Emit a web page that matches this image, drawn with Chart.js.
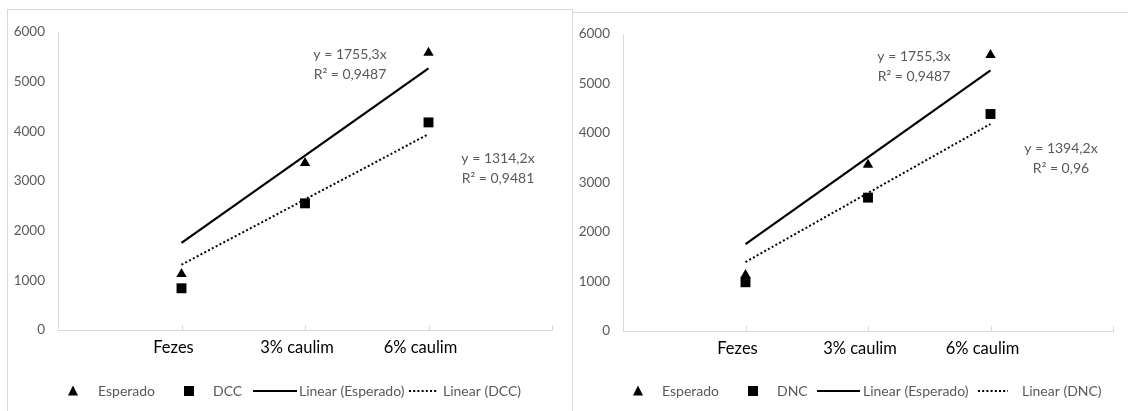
<!DOCTYPE html>
<html>
<head>
<meta charset="utf-8">
<script src="https://cdn.jsdelivr.net/npm/chart.js@4.4.1/dist/chart.umd.min.js"></script>
<style>
  html, body { margin: 0; padding: 0; background: #ffffff; }
  body { width: 1128px; height: 411px; position: relative; overflow: hidden; }
  .box { position: absolute; border: 1px solid #d9d9d9; border-bottom: none; background: #fff; }
  #boxA { left: 7px; top: 9px; width: 564px; height: 410px; }
  #boxB { left: 572px; top: 12px; width: 560px; height: 410px; }
  canvas { position: absolute; left: 0; top: 0; }
</style>
</head>
<body>
<div class="box" id="boxA"><canvas id="chartA" width="564" height="401"></canvas></div>
<div class="box" id="boxB"><canvas id="chartB" width="555" height="398"></canvas></div>
<script>
// Treatments along the horizontal axis and their positions on it
const categories = ['Fezes', '3% caulim', '6% caulim'];
const categoryPositions = [1, 2, 3];
const xTickPositions = [1, 2, 3, 4];

// Vertical axis ticks
const yTicks = [0, 1000, 2000, 3000, 4000, 5000, 6000];

// Measured / expected values
const esperado = [1130, 3360, 5580];
const dcc = [840, 2550, 4180];
const dnc = [985, 2695, 4385];

// Linear trend lines forced through the origin (y = a·x)
const slopeEsperado = 1755.3;
const slopeDCC = 1314.2;
const slopeDNC = 1394.2;
const r2Esperado = 0.9487;
const r2DCC = 0.9481;
const r2DNC = 0.96;
const trendX = [1, 3];
const trendEsperado = [1755.3, 5265.9];
const trendDCC = [1314.2, 3942.6];
const trendDNC = [1394.2, 4182.6];

const FONT = "Lato, 'Liberation Sans', sans-serif";
const GREY_TEXT = '#595959';
const AXIS_GREY = '#d9d9d9';
const TICK_SIZE = 13.5;
const EQ_SIZE = 14;
const LEGEND_SIZE = 14;

const fmt = v => String(v).replace('.', ',');
const pts = (xs, ys) => xs.map((x, i) => ({ x, y: ys[i] }));

function drawTriangle(ctx, x, y, s) {
  ctx.beginPath();
  ctx.moveTo(x, y - s * 0.55);
  ctx.lineTo(x + s / 2, y + s * 0.45);
  ctx.lineTo(x - s / 2, y + s * 0.45);
  ctx.closePath();
  ctx.fill();
}

// Inward tick marks on the category axis, equations and the legend row
const decorPlugin = {
  id: 'decor',
  afterDraw(chart) {
    const o = chart.options.plugins.decor;
    const ctx = chart.ctx;
    const xs = chart.scales.x;
    const ys = chart.scales.y;
    ctx.save();
    // tick marks
    ctx.strokeStyle = AXIS_GREY;
    ctx.lineWidth = 1;
    xTickPositions.forEach(v => {
      const px = Math.round(xs.getPixelForValue(v)) + 0.5;
      ctx.beginPath();
      ctx.moveTo(px, ys.bottom);
      ctx.lineTo(px, ys.bottom - 5);
      ctx.stroke();
    });
    // trend equations
    ctx.fillStyle = GREY_TEXT;
    ctx.font = EQ_SIZE + 'px ' + FONT;
    ctx.textAlign = 'center';
    ctx.textBaseline = 'middle';
    o.equations.forEach(e => {
      ctx.fillText('y = ' + fmt(e.slope) + 'x', e.x, e.y);
      ctx.fillText('R\u00B2 = ' + fmt(e.r2), e.x, e.y + 20);
    });
    // legend
    const ly = o.legendY;
    ctx.font = LEGEND_SIZE + 'px ' + FONT;
    ctx.textAlign = 'left';
    o.legend.forEach(item => {
      ctx.fillStyle = '#000';
      ctx.strokeStyle = '#000';
      if (item.kind === 'triangle') {
        drawTriangle(ctx, item.sx, ly, 10);
      } else if (item.kind === 'square') {
        ctx.fillRect(item.sx - 5, ly - 5, 10, 10);
      } else {
        ctx.lineWidth = 2;
        ctx.setLineDash(item.kind === 'dotted' ? [2, 2.2] : []);
        ctx.beginPath();
        ctx.moveTo(item.sx, ly);
        ctx.lineTo(item.ex, ly);
        ctx.stroke();
        ctx.setLineDash([]);
      }
      ctx.fillStyle = GREY_TEXT;
      ctx.fillText(item.text, item.tx, ly);
    });
    ctx.restore();
  }
};

function makeChart(id, second, secondTrend, secondLabel, layout) {
  const datasets = [
    {
      label: 'Esperado',
      data: pts(categoryPositions, esperado),
      pointStyle: 'triangle',
      pointRadius: 6,
      backgroundColor: '#000',
      borderColor: '#000',
      borderWidth: 0,
      showLine: false,
      order: 2
    },
    {
      label: secondLabel,
      data: pts(categoryPositions, second),
      pointStyle: 'rect',
      pointRadius: 7,
      backgroundColor: '#000',
      borderColor: '#000',
      borderWidth: 0,
      showLine: false,
      order: 2
    },
    {
      label: 'Linear (Esperado)',
      data: pts(trendX, trendEsperado),
      showLine: true,
      pointRadius: 0,
      borderColor: '#000',
      borderWidth: 2.2,
      order: 1
    },
    {
      label: 'Linear (' + secondLabel + ')',
      data: pts(trendX, secondTrend),
      showLine: true,
      pointRadius: 0,
      borderColor: '#000',
      borderWidth: 2,
      borderDash: [2, 2.3],
      order: 1
    }
  ];

  return new Chart(document.getElementById(id), {
    type: 'scatter',
    data: { datasets },
    plugins: [decorPlugin],
    options: {
      responsive: false,
      animation: false,
      events: [],
      layout: { padding: layout.padding },
      scales: {
        x: {
          type: 'linear',
          min: 0,
          max: 4,
          afterBuildTicks: s => { s.ticks = xTickPositions.map(v => ({ value: v })); },
          afterFit: s => { s.height = 40; },
          grid: { display: true, drawOnChartArea: false, drawTicks: false },
          border: { display: true, color: AXIS_GREY, width: 1 },
          ticks: {
            padding: 8,
            labelOffset: -8,
            autoSkip: false,
            maxRotation: 0,
            color: '#000',
            font: { family: FONT, size: 16.5 },
            callback: v => {
              const i = categoryPositions.indexOf(v);
              return i >= 0 ? categories[i] : '';
            }
          }
        },
        y: {
          min: 0,
          max: 6000,
          afterBuildTicks: s => { s.ticks = yTicks.map(v => ({ value: v })); },
          afterFit: s => { s.width = 50; },
          grid: { display: true, drawOnChartArea: false, drawTicks: false },
          border: { display: true, color: AXIS_GREY, width: 1 },
          ticks: {
            padding: 13,
            color: GREY_TEXT,
            font: { family: FONT, size: TICK_SIZE },
            callback: v => String(v)
          }
        }
      },
      plugins: {
        legend: { display: false },
        tooltip: { enabled: false },
        decor: {
          equations: layout.equations,
          legend: layout.legend,
          legendY: layout.legendY
        }
      }
    }
  });
}

makeChart('chartA', dcc, trendDCC, 'DCC', {
  padding: { left: 0, top: 22, right: 20, bottom: 41 },
  equations: [
    { slope: slopeEsperado, r2: r2Esperado, x: 342, y: 44 },
    { slope: slopeDCC, r2: r2DCC, x: 490, y: 148 }
  ],
  legendY: 381,
  legend: [
    { kind: 'triangle', sx: 65, text: 'Esperado', tx: 90 },
    { kind: 'square', sx: 181, text: 'DCC', tx: 205 },
    { kind: 'solid', sx: 245, ex: 289, text: 'Linear (Esperado)', tx: 291 },
    { kind: 'dotted', sx: 401, ex: 430, text: 'Linear (DCC)', tx: 435 }
  ]
});

makeChart('chartB', dnc, trendDNC, 'DNC', {
  padding: { left: 0, top: 20, right: 15, bottom: 40 },
  equations: [
    { slope: slopeEsperado, r2: r2Esperado, x: 341, y: 43 },
    { slope: slopeDNC, r2: r2DNC, x: 488, y: 135 }
  ],
  legendY: 378,
  legend: [
    { kind: 'triangle', sx: 65, text: 'Esperado', tx: 89 },
    { kind: 'square', sx: 180, text: 'DNC', tx: 204 },
    { kind: 'solid', sx: 244, ex: 287, text: 'Linear (Esperado)', tx: 290 },
    { kind: 'dotted', sx: 405, ex: 435, text: 'Linear (DNC)', tx: 449 }
  ]
});
</script>
</body>
</html>
